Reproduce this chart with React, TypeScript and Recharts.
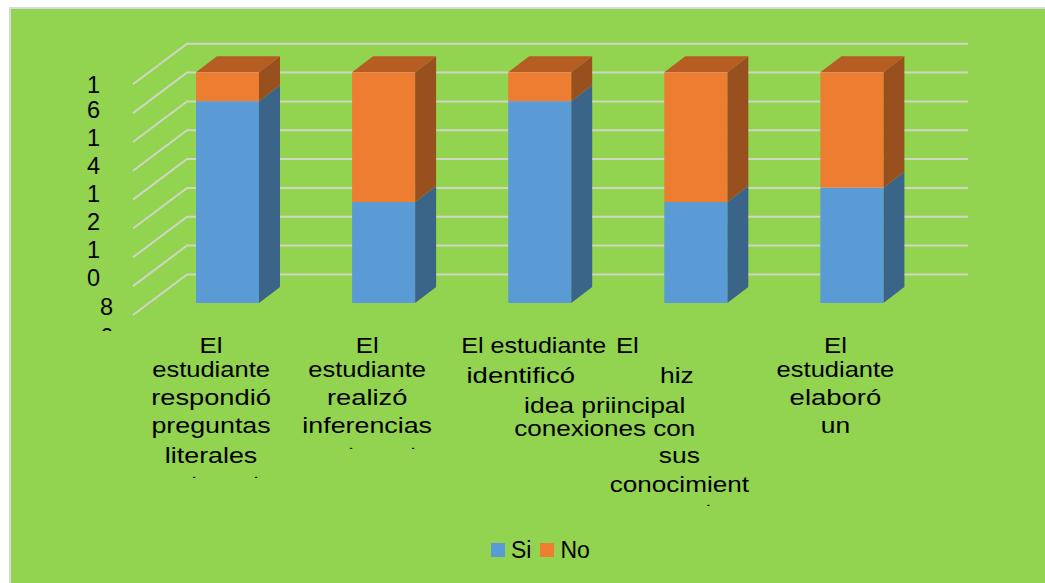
import { Bar, BarChart, CartesianGrid, Legend, XAxis, YAxis } from 'recharts'

const categories = [
  'El estudiante respondió preguntas literales',
  'El estudiante realizó inferencias',
  'El estudiante identificó idea priincipal',
  'El hizo conexiones con sus conocimientos',
  'El estudiante elaboró un',
]
const si = [14, 7, 14, 7, 8]
const no = [2, 9, 2, 9, 8]
const yTicks = [0, 2, 4, 6, 8, 10, 12, 14, 16]

const tickLines = [
  ['El', 'estudiante', 'respondió', 'preguntas', 'literales', '.', '.'],
  ['El', 'estudiante', 'realizó', 'inferencias', '.', '.'],
  ['El estudiante', 'identificó', 'idea priincipal', 'conexiones con'],
  ['El', 'hiz', 'sus', 'conocimient', '.'],
  ['El', 'estudiante', 'elaboró', 'un'],
]

// [dx from the label centre, baseline y, horizontal stretch] for each wrapped line
const tickLayout = [
  [[0, 353, 1.17], [0, 377, 1.16], [0, 405, 1.24], [0, 433, 1.22], [0, 463, 1.22], [-17, 477.5, 2], [45, 477.5, 2]],
  [[0, 353, 1.17], [0, 377, 1.16], [0, 405, 1.24], [0, 433, 1.22], [-16, 448.5, 2], [46, 448.5, 2]],
  [[10.5, 353, 1.14], [-2.5, 383, 1.25], [81.5, 413, 1.2], [81.5, 436, 1.185]],
  [[-52, 353, 1.17], [-2.5, 383, 1.2], [0, 463, 1.2], [0, 492, 1.187], [29, 506, 2]],
  [[0, 353, 1.17], [0, 377, 1.16], [0, 405, 1.25], [0, 433, 1.2]],
]

const yTickLines: Record<number, [string, number, number][]> = {
  16: [['1', 93.5, 93], ['6', 93.5, 117.5]],
  14: [['1', 93.5, 145.5], ['4', 93.5, 173.5]],
  12: [['1', 93.5, 202], ['2', 93.5, 230]],
  10: [['1', 93.5, 258], ['0', 93.5, 285.5]],
  8: [['8', 106.5, 314.5]],
  6: [['6', 106.5, 345]],
}

const data = categories.map((category, i) => ({ category, si: si[i], no: no[i] }))

const FONT = '"Liberation Sans", Arial, sans-serif'
const GREEN = '#92D350'
const BLUE = '#5B9BD5'
const ORANGE = '#ED7D31'
const GRID = '#D0D6C6'
const DEPTH_X = 21
const DEPTH_Y = 16

function GridLine(props: any) {
  const { y1, x2 } = props
  return (
    <polyline
      key={props.key}
      points={`${x2 - 796.5},${y1 + 12} ${x2 - 742.5},${y1 - 28.6} ${x2 + 38.5},${y1 - 28.6}`}
      fill="none"
      stroke={GRID}
      strokeWidth={2}
    />
  )
}

function Column(props: any) {
  const { x, y, width, height, fill, sideFill, topFill } = props
  const r = x + width
  return (
    <g>
      <polygon
        points={`${r},${y} ${r + DEPTH_X},${y - DEPTH_Y} ${r + DEPTH_X},${y + height - DEPTH_Y} ${r},${y + height}`}
        fill={sideFill}
      />
      {topFill && (
        <polygon
          points={`${x},${y} ${x + DEPTH_X},${y - DEPTH_Y} ${r + DEPTH_X},${y - DEPTH_Y} ${r},${y}`}
          fill={topFill}
        />
      )}
      <rect x={x} y={y} width={width} height={height} fill={fill} />
    </g>
  )
}

function CategoryTick(props: any) {
  const { x, index } = props
  const cx = x - 16
  return (
    <g>
      {tickLines[index].map((line, i) => {
        const [dx, y, stretch] = tickLayout[index][i]
        return (
          <text
            key={i}
            transform={`translate(${cx + dx},${y}) scale(${stretch},1)`}
            textAnchor="middle"
            fontFamily={FONT}
            fontSize={line === '.' ? 11 : 22}
            fill="#000"
          >
            {line}
          </text>
        )
      })}
    </g>
  )
}

function ValueTick(props: any) {
  const lines = yTickLines[props.payload.value] ?? []
  return (
    <g clipPath="url(#axis-clip)">
      {lines.map(([digit, x, y]) => (
        <text key={y} x={x} y={y} textAnchor="middle" fontFamily={FONT} fontSize={23.5} fill="#000">
          {digit}
        </text>
      ))}
    </g>
  )
}

function LegendRow({ payload }: any) {
  return (
    <div style={{ display: 'flex', alignItems: 'center', fontFamily: FONT, fontSize: 23, lineHeight: '26px', color: '#000' }}>
      {payload.map((item: any, i: number) => (
        <span key={item.value} style={{ display: 'flex', alignItems: 'center', marginRight: i === 0 ? 9 : 0 }}>
          <span style={{ width: 14, height: 14, background: item.color, marginRight: 6 }} />
          {item.value}
        </span>
      ))}
    </div>
  )
}

export default function App() {
  return (
    <div
      style={{
        position: 'absolute',
        left: 0,
        top: 0,
        width: 1045,
        height: 583,
        background: '#fff',
        overflow: 'hidden',
      }}
    >
      <div
        style={{
          position: 'absolute',
          left: 9,
          top: 7,
          width: 1045,
          height: 583,
          boxSizing: 'border-box',
          background: GREEN,
          borderLeft: '2px solid #D9D9D9',
          borderTop: '2px solid #D9D9D9',
        }}
      />
      <div style={{ position: 'absolute', left: 0, top: 0 }}>
        <BarChart
          width={1045}
          height={583}
          data={data}
          margin={{ left: 89, right: 115.5, top: 72.3, bottom: 220 }}
          barSize={63}
        >
          <defs>
            <clipPath id="axis-clip">
              <rect x={0} y={0} width={140} height={331} />
            </clipPath>
          </defs>
          <CartesianGrid vertical={false} horizontal={GridLine} />
          <XAxis dataKey="category" interval={0} height={60} axisLine={false} tickLine={false} tick={CategoryTick} />
          <YAxis
            width={60}
            domain={[0, 16]}
            ticks={yTicks}
            interval={0}
            axisLine={false}
            tickLine={false}
            tick={ValueTick}
          />
          <Legend
            layout="horizontal"
            verticalAlign="middle"
            align="center"
            itemSorter={null}
            wrapperStyle={{ left: 491, top: 537, width: 120 }}
            content={LegendRow}
          />
          <Bar
            dataKey="si"
            name="Si"
            stackId="a"
            fill={BLUE}
            isAnimationActive={false}
            shape={(p: any) => <Column {...p} sideFill="#3B6489" />}
          />
          <Bar
            dataKey="no"
            name="No"
            stackId="a"
            fill={ORANGE}
            isAnimationActive={false}
            shape={(p: any) => <Column {...p} sideFill="#97501E" topFill="#B55D22" />}
          />
        </BarChart>
      </div>
    </div>
  )
}
